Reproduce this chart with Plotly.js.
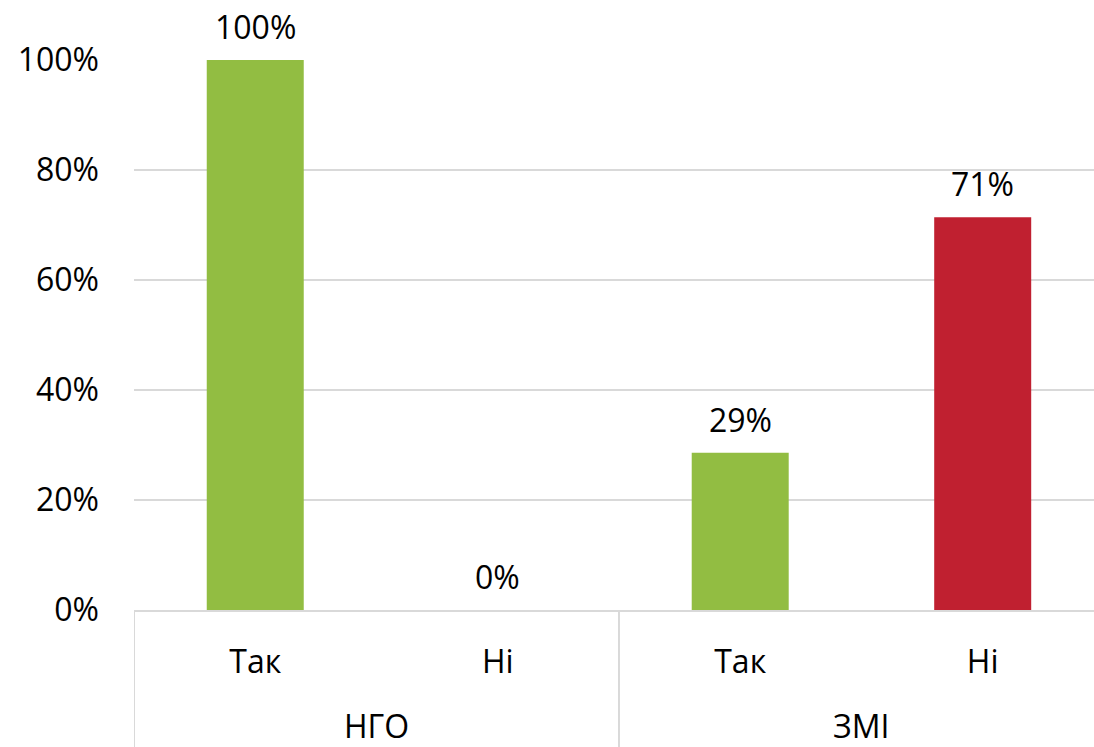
<!DOCTYPE html>
<html>
<head>
<meta charset="utf-8">
<script src="https://cdn.plot.ly/plotly-3.0.1.min.js"></script>
<style>html,body{margin:0;padding:0;background:#fff;}#chart{width:1094px;height:747px;}</style>
</head>
<body>
<div id="chart"></div>
<script>
const groups = ["НГО", "НГО", "ЗМІ", "ЗМІ"];
const answers = ["Так", "Ні", "Так", "Ні"];
const values = [100, 0, 28.6, 71.4];
const valueLabels = ["100%", "0%", "29%", "71%"];
const barColors = ["#92BD42", "#92BD42", "#92BD42", "#C02030"];
const yTickVals = [0, 20, 40, 60, 80, 100];
const yTickText = ["0%", "20%", "40%", "60%", "80%", "100%"];

const FONT = "Open Sans, Noto Sans, sans-serif";
const FS = 32;
const GRID = "#d9d9d9";

const idx = answers.map((_, i) => i);

const trace = {
  type: "bar",
  x: idx,
  y: values,
  width: 0.4,
  marker: { color: barColors },
  hoverinfo: "none"
};

const annotations = values.map((v, i) => ({
  x: idx[i], xref: "x", yref: "y", y: v,
  text: valueLabels[i],
  showarrow: false, yanchor: "bottom", yshift: 10,
  font: { family: FONT, size: FS, color: "#000" }
}));

// group labels and dividers
const groupNames = [...new Set(groups)];
const shapes = [];
groupNames.forEach((g) => {
  const members = idx.filter(i => groups[i] === g);
  const lo = Math.min(...members), hi = Math.max(...members);
  annotations.push({
    x: (lo + hi) / 2, xref: "x", yref: "paper", y: 0,
    text: g, showarrow: false, yanchor: "middle", yshift: -115,
    font: { family: FONT, size: FS, color: "#000" }
  });
  shapes.push({
    type: "line", xref: "x", yref: "paper",
    x0: lo - 0.5, x1: lo - 0.5, y0: 0, y1: -0.3,
    line: { color: GRID, width: 2 }
  });
});

const layout = {
  width: 1094, height: 747,
  margin: { l: 134, r: 0, t: 60, b: 137 },
  paper_bgcolor: "#fff", plot_bgcolor: "#fff",
  showlegend: false,
  font: { family: FONT, size: FS, color: "#000" },
  xaxis: {
    range: [-0.5, 3.459],
    tickvals: idx, ticktext: answers,
    showline: true, linecolor: GRID, linewidth: 2,
    showgrid: false, zeroline: false, ticks: "",
    ticklabelstandoff: 23,
    tickfont: { family: FONT, size: FS, color: "#000" }
  },
  yaxis: {
    range: [0, 100],
    tickvals: yTickVals, ticktext: yTickText,
    showgrid: true, gridcolor: GRID, gridwidth: 2,
    zeroline: false, showline: false,
    ticklabelstandoff: 34,
    tickfont: { family: FONT, size: FS, color: "#000" }
  },
  shapes: shapes,
  annotations: annotations
};

Plotly.newPlot("chart", [trace], layout, { displayModeBar: false, staticPlot: true });
</script>
</body>
</html>
